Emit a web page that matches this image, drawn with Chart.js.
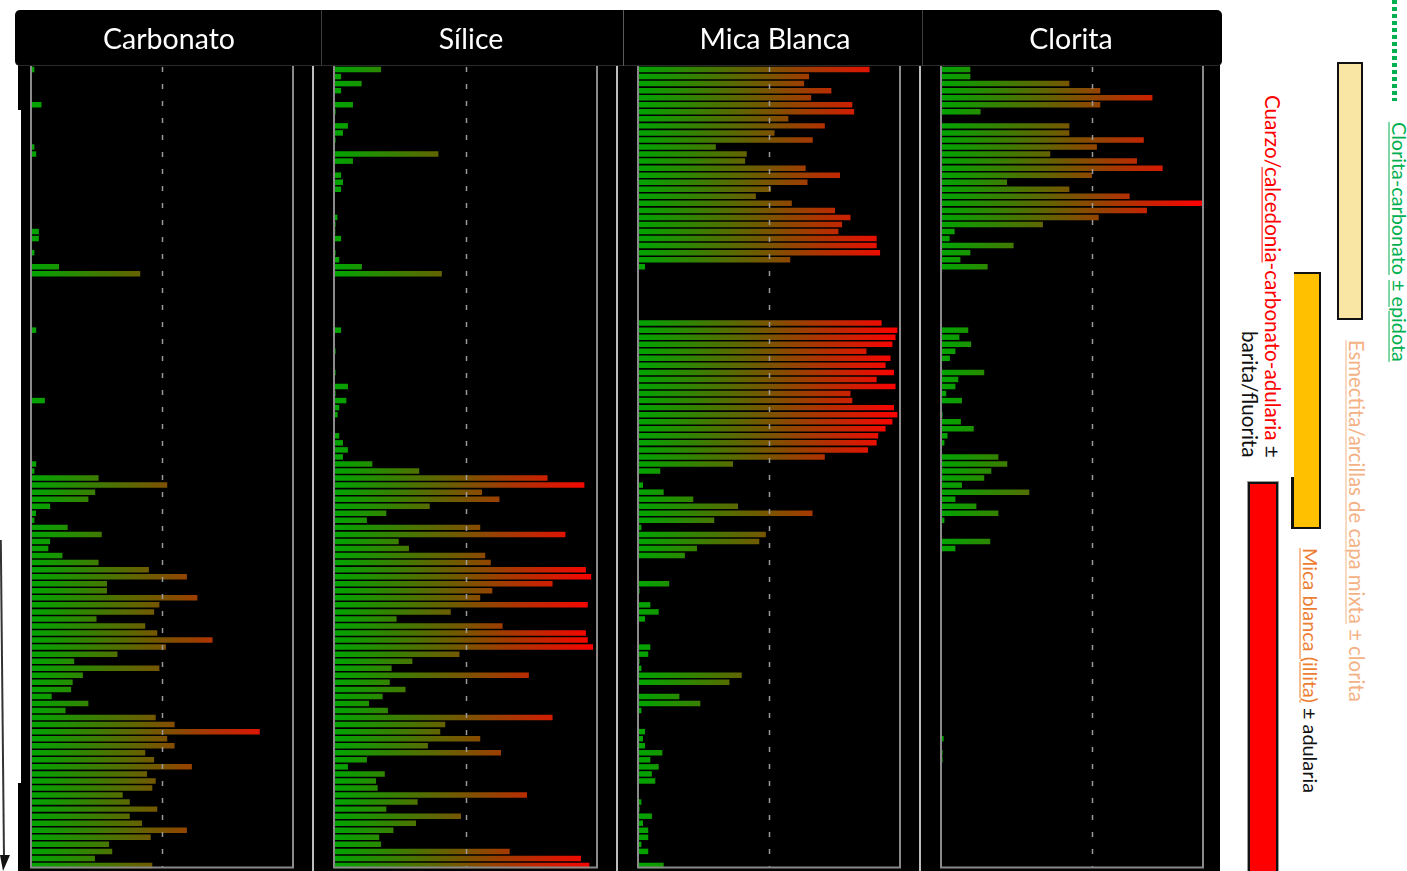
<!DOCTYPE html>
<html><head><meta charset="utf-8">
<script src="https://cdn.jsdelivr.net/npm/chart.js@4.4.1/dist/chart.umd.min.js"></script>
<style>
html,body{margin:0;padding:0;background:#fff;}
body{width:1407px;height:871px;position:relative;overflow:hidden;font-family:Lato,'Open Sans',sans-serif;}
.a{position:absolute;}
.vt{position:absolute;writing-mode:vertical-rl;text-orientation:sideways;white-space:pre;line-height:23px;font-family:Lato,'Open Sans',sans-serif;text-underline-position:left;font-size:18px;}
.u{text-decoration:underline;text-decoration-thickness:1px;text-underline-offset:2px;}
.title{position:absolute;top:10px;height:56px;line-height:56px;color:#fff;font-size:28.5px;text-align:center;font-family:Lato,'Open Sans',sans-serif;}
canvas{position:absolute;}
</style></head><body>
<!-- black background of the panels -->
<div class="a" style="left:21px;top:60px;width:1199px;height:811px;background:#000"></div>
<div class="a" style="left:18px;top:60px;width:4px;height:50px;background:#000"></div>
<div class="a" style="left:18px;top:783px;width:4px;height:88px;background:#000"></div>
<!-- panel separators -->
<div class="a" style="left:312px;top:66px;width:2px;height:805px;background:#bdbdbd"></div>
<div class="a" style="left:616px;top:66px;width:2px;height:805px;background:#bdbdbd"></div>
<div class="a" style="left:919px;top:66px;width:2px;height:805px;background:#bdbdbd"></div>
<div id="charts"></div>
<!-- header -->
<div class="a" style="left:15px;top:10px;width:1207px;height:56px;background:#000;border-radius:5px;border-bottom:1px solid #2a2a2a;box-sizing:border-box"></div>
<div class="a" style="left:321px;top:10px;width:1px;height:56px;background:#3c3c3c"></div>
<div class="a" style="left:623px;top:10px;width:1px;height:56px;background:#5a5a5a"></div>
<div class="a" style="left:922px;top:10px;width:1px;height:56px;background:#3c3c3c"></div>
<div id="titles"></div>
<!-- left depth arrow -->
<svg class="a" style="left:0;top:0" width="20" height="871">
  <line x1="0.8" y1="540" x2="4" y2="858" stroke="#333" stroke-width="2"/>
  <polygon points="0,855 10,855 3,871" fill="#111"/>
</svg>
<!-- right side zone bars -->
<div class="a" style="left:1392px;top:0;width:5px;height:101px;background:repeating-linear-gradient(to bottom,#00b050 0,#00b050 4px,transparent 4px,transparent 7px)"></div>
<div class="a" style="left:1337px;top:62px;width:26px;height:258px;background:#f9e6a4;border:2px solid #111;box-sizing:border-box"></div>
<div class="a" style="left:1294px;top:272px;width:27px;height:257px;background:#ffc000;border:2px solid #111;border-left:none;box-sizing:border-box"></div>
<div class="a" style="left:1291px;top:477px;width:3px;height:52px;background:#111"></div>
<div class="a" style="left:1248px;top:482px;width:30px;height:400px;background:#ff0000;border:2px solid #111;box-sizing:border-box;box-shadow:0 0 0 1px #999"></div>
<!-- rotated labels -->
<div class="vt" id="t1" style="color:#00b050"><span class="u">Clorita-carbonato</span> <span class="u">± epidota</span></div>
<div class="vt" id="t2" style="color:#f4b183"><span class="u">Esmectita/arcillas de capa mixta</span> ± clorita</div>
<div class="vt" id="t3" style="color:#111"><span class="u" style="color:#ed7d31">Mica blanca (illita)</span> ± adularia</div>
<div class="vt" id="t4" style="color:#111;text-align:end"><span style="color:#ff0000">Cuarzo/<span class="u">calcedonia</span>-carbonato-adularia</span> ±
barita/fluorita</div>
<script>
// ---------------- data ----------------
const panelTitles = ["Carbonato", "Sílice", "Mica Blanca", "Clorita"];
const rows = Array.from({length:114}, (_, i) => "m" + (i + 1));
const thresholds = [50, 50, 50, 57.7];

const carbonato = [
 1.3,0,0,0,0,4,0,0,0,0,
 0,1.3,2,0,0,0,0,0,0,0,
 0,0,0,3,3,0,1.3,0,10.7,41.7,
 0,0,0,0,0,0,0,2,0,0,
 0,0,0,0,0,0,0,5.3,0,0,
 0,0,0,0,0,0,2,1.3,25.8,52,
 24.5,21.9,7.3,1.9,1.3,14,27,7.3,6.6,12,
 25.8,45,59.5,29,29,63.5,49,47,25,43.6,
 48.2,69.3,51.5,33,16.5,49,19.8,15.9,15.3,7.9,
 21.9,13.2,47.6,54.8,87.3,52,54.8,43.6,47,61.4,
 44.3,47.6,46.3,35,37.7,48.2,37.7,42.4,59.5,45.7,
 29.8,31,24.4,46.3];

const silice = [
 17.9,2.7,10.5,2.7,0,7.2,0.6,0.4,5.3,3.4,
 0.6,0.4,39.7,7.2,0.4,2.7,3.4,2.7,0,0,
 0,1.3,0.6,0.5,2.7,0,0.6,2,10.6,41,
 0,0,0,0,0,0,0,2.7,0,0,
 0.6,0,0,0.6,0,5.3,0.6,4.7,2,1.4,
 0,0,2,3.4,5.3,3.4,14.6,32.4,81.2,95.2,
 56.3,62.9,36.4,19.9,12.5,55.6,88,24.6,28.5,57.5,
 59.6,95.8,97.8,83.1,60.2,55.6,96.5,44.4,23.8,64.1,
 95.8,96.5,98.5,47.7,29.8,21.9,74.1,21.2,27.2,18.5,
 13.3,20.5,83.1,42.3,40.4,55.6,35.7,63.5,12.5,5.3,
 19.3,16,16.6,73.4,31.8,19.9,48.3,31.2,22.6,17.2,
 17.9,66.8,93.9,97.1];

const micaBlanca = [
 88.4,65.3,63.4,73.8,66.1,81.8,82.5,57.4,71.3,52.1,
 66.7,29.7,41.5,40.9,64,77.1,64.7,50.8,45,58.7,
 75.2,81.1,77.9,76.5,91.1,91.1,92.4,58.1,2.7,0,
 0,0,0,0,0,0,93,99,98.3,97.1,
 87.2,96.4,94.5,97.7,91.1,98.3,81.1,81.8,97.7,99,
 97.1,94.5,91.7,91.1,87.8,71.3,36.3,8.5,0,1.9,
 9.8,21.1,38.2,66.6,29.1,1.3,48.8,46.3,22.5,17.9,
 0,0,0,11.9,0.6,0,4.7,7.9,2.7,0,
 0,0,4.7,3.9,0.6,1.3,39.6,34.9,0,15.8,
 23.8,1.3,0,0,2.7,1.9,2.7,9.3,4.7,7.9,
 5.3,6.6,0,0,1.3,0.6,5.3,1.9,3.9,3.9,
 1.3,3.9,0,9.8];

const clorita = [
 11.2,11.2,49,60.8,80.7,60.8,15.1,0,49,49,
 77.4,59.5,41.7,74.8,84.6,57.6,25.2,49,72,100,
 78.6,60.2,38.9,5.2,3.3,27.7,11.2,7.4,17.8,0,
 0,0,0,0,0,0,0,10.4,7,11.5,
 5.5,3.4,0,16.5,6.6,5.5,2,8,0,0.6,
 7.6,12.5,2.5,1.3,0,21.9,25.3,19.2,16.5,8,
 33.7,5.5,13.5,21.9,1.3,0,0,18.8,5.5,0,
 0,0,0,0,0,0,0,0,0,0,
 0,0,0,0,0,0,0,0,0,0,
 0,0,0,0,0,1,0,0.6,0.6,0,
 0,0,0,0,0,0,0,0,0,0,
 0,0,0,0];

const series = [carbonato, silice, micaBlanca, clorita];

// ---------------- layout ----------------
const plotLeft  = [31, 334, 638, 941];
const plotRight = [293, 597, 900, 1203];
const titleCenter = [169, 471, 775, 1071];
const plotTop = 66, plotBottom = 869, pad = 6;

const framePlugin = {
  id: 'frame',
  afterDatasetsDraw(chart, args, opts) {
    const {ctx, chartArea: a, scales: {x}} = chart;
    ctx.save();
    const tx = Math.round(x.getPixelForValue(opts.threshold)) + 0.5;
    ctx.strokeStyle = '#9a9a9a'; ctx.lineWidth = 1.5; ctx.setLineDash([5, 12]);
    ctx.beginPath(); ctx.moveTo(tx, a.top + 1); ctx.lineTo(tx, a.bottom - 2); ctx.stroke();
    ctx.setLineDash([]);
    ctx.strokeStyle = '#8a8a8a'; ctx.lineWidth = 2;
    ctx.beginPath();
    ctx.moveTo(a.left, a.top); ctx.lineTo(a.left, a.bottom - 1.5);
    ctx.lineTo(a.right, a.bottom - 1.5); ctx.lineTo(a.right, a.top);
    ctx.stroke();
    ctx.restore();
  }
};

function barGradient(context) {
  const chart = context.chart, a = chart.chartArea;
  if (!a) return 'rgb(0,160,0)';
  const g = chart.ctx.createLinearGradient(a.left, 0, a.right, 0);
  g.addColorStop(0, 'rgb(0,165,0)');
  g.addColorStop(0.5, 'rgb(122,84,0)');
  g.addColorStop(1, 'rgb(255,0,0)');
  return g;
}

const holder = document.getElementById('charts');
const titles = document.getElementById('titles');
series.forEach((vals, k) => {
  const cv = document.createElement('canvas');
  const w = plotRight[k] - plotLeft[k] + 2 * pad;
  const h = plotBottom - plotTop + 2 * pad;
  cv.width = w; cv.height = h;
  cv.style.left = (plotLeft[k] - pad) + 'px';
  cv.style.top = (plotTop - pad) + 'px';
  cv.style.width = w + 'px'; cv.style.height = h + 'px';
  holder.appendChild(cv);
  new Chart(cv, {
    type: 'bar',
    data: { labels: rows, datasets: [{ data: vals, backgroundColor: barGradient, borderWidth: 0,
            barPercentage: 0.78, categoryPercentage: 1 }] },
    options: {
      indexAxis: 'y', responsive: false, animation: false, devicePixelRatio: 1,
      layout: { padding: pad },
      plugins: { legend: { display: false }, tooltip: { enabled: false }, frame: { threshold: thresholds[k] } },
      scales: { x: { display: false, min: 0, max: 100 }, y: { display: false } }
    },
    plugins: [framePlugin]
  });
  const t = document.createElement('div');
  t.className = 'title';
  t.textContent = panelTitles[k];
  t.style.left = (titleCenter[k] - 150) + 'px';
  t.style.width = '300px';
  titles.appendChild(t);
});

// ---------------- rotated labels: fit length & place ----------------
const labelSpecs = [
  { id: 't1', top: 122, len: 240, cx: 1399 },
  { id: 't2', top: 340, len: 362, cx: 1356 },
  { id: 't3', top: 548, len: 245, cx: 1310 },
  { id: 't4', top: 95,  len: 363, cx: 1272 }
];
function fitLabels() {
  labelSpecs.forEach(s => {
    const el = document.getElementById(s.id);
    el.style.fontSize = '18px';
    let L = el.getBoundingClientRect().height;
    if (L > 0) el.style.fontSize = (18 * s.len / L).toFixed(2) + 'px';
    el.style.top = s.top + 'px';
    const r = el.getBoundingClientRect();
    el.style.left = (s.cx + 11.5 - r.width) + 'px';
  });
}
fitLabels();
if (document.fonts && document.fonts.ready) document.fonts.ready.then(fitLabels);
</script>
</body></html>
